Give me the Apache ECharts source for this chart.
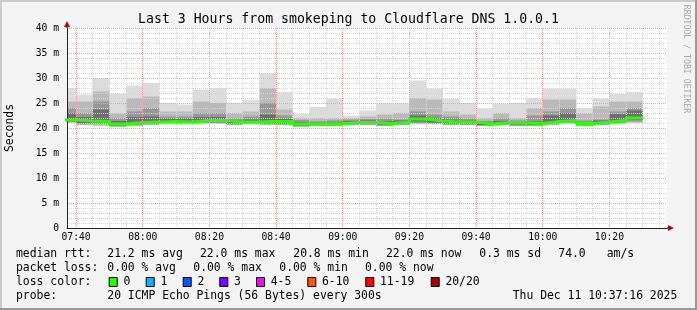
<!DOCTYPE html>
<html><head><meta charset="utf-8">
<script src="https://cdn.jsdelivr.net/npm/echarts@6/dist/echarts.min.js"></script>
<style>html,body{margin:0;padding:0;background:#f3f3f3;}#c{width:697px;height:310px;}</style>
</head><body><div id="c"></div>
<script>
// ---- data (ms) ----
const barStart = ['07:35','07:40','07:45','07:50','07:55','08:00','08:05','08:10','08:15','08:20','08:25','08:30','08:35','08:40','08:45','08:50','08:55','09:00','09:05','09:10','09:15','09:20','09:25','09:30','09:35','09:40','09:45','09:50','09:55','10:00','10:05','10:10','10:15','10:20','10:25'];
const STEP_MIN = 5;
const pingMax = [28.0,26.7,30.0,26.9,28.5,29.0,25.0,24.7,27.7,28.0,25.0,25.6,31.0,27.2,22.8,24.2,25.9,22.5,23.5,24.9,24.9,29.5,27.9,25.8,25.0,23.9,24.8,25.0,26.0,27.9,27.9,24.0,25.9,26.8,27.2];
const ping18 = [25.3,25.3,27.3,23.0,26.0,26.3,23.3,23.3,25.3,25.0,23.0,23.3,28.0,23.7,22.0,22.0,22.0,22.0,22.3,22.7,23.0,26.0,25.7,23.3,22.7,22.0,23.0,22.0,24.0,25.7,25.7,23.0,24.3,25.3,25.3];
const ping15 = [24.0,23.0,25.3,22.0,23.3,24.0,22.3,22.3,23.0,23.0,21.9,22.3,25.0,22.5,21.6,21.3,21.5,21.7,21.8,21.9,21.7,23.3,22.7,22.3,21.9,21.4,21.9,21.5,22.5,23.3,24.0,21.5,21.7,23.3,24.0];
const ping12 = [23.0,22.2,23.7,21.4,22.2,22.3,21.9,21.9,22.2,22.2,21.6,21.7,22.7,21.8,21.2,21.1,21.2,21.4,21.5,21.4,21.5,22.5,22.0,21.7,21.5,21.1,21.4,21.2,21.3,22.5,23.0,21.2,21.5,22.8,23.5];
const median = [21.6,21.4,21.3,20.8,21.1,21.2,21.3,21.2,21.5,21.5,21.2,21.2,21.3,21.3,20.8,20.8,20.9,21.1,21.1,20.9,21.2,21.8,21.4,21.2,21.2,20.8,21.1,21.0,20.9,21.3,21.5,20.9,21.2,21.5,22.0];
const ping9 = [21.3,21.0,21.0,20.5,20.8,20.9,21.1,21.0,21.2,21.2,20.9,21.0,21.0,20.9,20.5,20.6,20.7,20.9,20.9,20.7,20.9,21.3,21.1,20.9,20.9,20.6,20.9,20.7,20.6,21.0,21.2,20.6,20.9,21.2,21.6];
const ping6 = [21.2,20.8,20.8,20.4,20.6,20.8,21.0,20.9,21.0,21.0,20.7,20.9,20.8,20.7,20.4,20.5,20.5,20.7,20.7,20.5,20.7,21.0,20.9,20.7,20.7,20.5,20.7,20.5,20.5,20.8,21.0,20.5,20.7,21.0,21.3];
const ping3 = [21.1,20.6,20.5,20.2,20.4,20.6,20.9,20.8,20.9,20.9,20.6,20.8,20.6,20.6,20.2,20.4,20.4,20.6,20.6,20.4,20.6,20.8,20.8,20.6,20.6,20.4,20.6,20.4,20.4,20.6,20.9,20.4,20.6,20.8,21.1];
const pingMin = [21.0,20.5,20.3,20.1,20.3,20.5,20.8,20.7,20.8,20.8,20.5,20.7,20.5,20.5,20.1,20.3,20.3,20.5,20.5,20.3,20.5,20.7,20.7,20.5,20.5,20.3,20.5,20.3,20.3,20.5,20.8,20.3,20.5,20.7,21.0];
const xTickLabels = ['07:40','08:00','08:20','08:40','09:00','09:20','09:40','10:00','10:20'];
const viewStart = '07:37:16', viewEnd = '10:37:16';

// ---- helpers ----
const toMin = s => { const p = s.split(':').map(Number); return p[0]*60 + p[1] + (p[2]||0)/60; };
const pad = n => (n<10?'0':'') + n;
const fmt = v => pad(Math.floor(Math.round(v)/60)) + ':' + pad(Math.round(v)%60);
const starts = barStart.map(toMin);
const xMin = toMin(viewStart), xMax = toMin(viewEnd);
const majorX = xTickLabels.map(toMin);
const minorX = [];
for (let m = Math.ceil(xMin/5)*5; m <= xMax; m += 5) if (majorX.indexOf(m) < 0) minorX.push(m);

const MONO = 'DejaVu Sans Mono';
const MAJ = '#f0a0a0', MIN = '#d6d6d6';
const Y_MIN = 0, Y_MAX = 40;

function band(lo, hi, color) {
  return {
    type: 'custom', z: 1, silent: true,
    data: starts.map((t,i) => [t, t + STEP_MIN, lo[i], hi[i]]),
    encode: { x: [0,1], y: [2,3] },
    renderItem(params, api) {
      const p1 = api.coord([api.value(0), api.value(3)]);
      const p2 = api.coord([api.value(1), api.value(2)]);
      const cs = params.coordSys;
      const shape = echarts.graphic.clipRectByRect(
        { x: p1[0], y: p1[1], width: p2[0]-p1[0], height: p2[1]-p1[1] },
        { x: cs.x, y: cs.y, width: cs.width, height: cs.height });
      return shape && { type: 'rect', shape, style: { fill: color } };
    }
  };
}
function vGrid(values, color, z) {
  return {
    type: 'custom', z, silent: true,
    data: values.map(v => [v, Y_MIN]),
    encode: { x: 0, y: 1 },
    renderItem(params, api) {
      const top = api.coord([api.value(0), Y_MAX]);
      const bot = api.coord([api.value(0), Y_MIN]);
      const x = Math.round(top[0] - 0.5) + 0.5;
      return { type: 'line', shape: { x1: x, y1: top[1], x2: x, y2: bot[1] },
        style: { stroke: color, lineWidth: 1, lineDash: [1,1] } };
    }
  };
}

const medLine = [[starts[0], median[0]]].concat(starts.map((t,i) => [t + STEP_MIN, median[i]]));

const txt = (x, y, text, extra) => Object.assign({ type: 'text', x, y, z: 10,
  style: Object.assign({ text, fill: '#000', font: '11.4px "' + MONO + '"', align: 'left', verticalAlign: 'middle' }, extra || {}) });

const legendRows = [
  [254.5, [[16,'median rtt:'],[107.3,'21.2 ms avg'],[200,'22.0 ms max'],[293.3,'20.8 ms min'],[386,'22.0 ms now'],[479.3,'0.3 ms sd'],[558.3,'74.0'],[606.7,'am/s']]],
  [268.5, [[16,'packet loss:'],[107.3,'0.00 % avg'],[193.3,'0.00 % max'],[279.3,'0.00 % min'],[365,'0.00 % now']]],
  [282.3, [[16,'loss color:']]],
  [296.3, [[16,'probe:'],[107.3,'20 ICMP Echo Pings (56 Bytes) every 300s'],[512.7,'Thu Dec 11 10:37:16 2025']]]
];
const lossLabels = ['0','1','2','3','4-5','6-10','11-19','20/20'];
const lossColors = ['#26ff00','#00b8ff','#0059ff','#7e00ff','#ff00ff','#ff5500','#ff0000','#a10000'];
const lossBoxX = [108.7,145.7,182.7,219.3,256,307.3,365.3,430.7];

const graphics = [
  { type:'rect', shape:{x:0,y:0,width:697,height:2}, style:{fill:'#cbcbcb'}, z:10 },
  { type:'rect', shape:{x:0,y:0,width:2,height:310}, style:{fill:'#cbcbcb'}, z:10 },
  { type:'rect', shape:{x:0,y:308,width:697,height:2}, style:{fill:'#999999'}, z:10 },
  { type:'rect', shape:{x:695,y:0,width:2,height:310}, style:{fill:'#999999'}, z:10 },
  { type:'line', shape:{x1:67,y1:28,x2:67,y2:24}, style:{stroke:'#222',lineWidth:1}, z:10 },
  { type:'polygon', shape:{points:[[64,27],[70,27],[67,21]]}, style:{fill:'#a01010'}, z:10 },
  { type:'line', shape:{x1:667,y1:228,x2:669,y2:228}, style:{stroke:'#222',lineWidth:1}, z:10 },
  { type:'polygon', shape:{points:[[668,225],[668,231],[674,228]]}, style:{fill:'#a01010'}, z:10 },
  txt(348.5, 19.2, 'Last 3 Hours from smokeping to Cloudflare DNS 1.0.0.1', { font: '13.2px "' + MONO + '"', align: 'center' }),
  Object.assign(txt(10.5, 128, 'Seconds', { align: 'center' }), { rotation: Math.PI/2 }),
  Object.assign(txt(686.5, 59, 'RRDTOOL / TOBI OETIKER', { align: 'center', fill: '#a8a8a8', font: '8.2px "' + MONO + '"' }), { rotation: -Math.PI/2 })
];
legendRows.forEach(r => r[1].forEach(p => graphics.push(txt(p[0], r[0], p[1]))));
lossLabels.forEach((l, i) => {
  graphics.push({ type:'rect', shape:{x:lossBoxX[i]+0.5, y:277.5, width:8, height:9}, style:{fill:lossColors[i], stroke:'#000', lineWidth:1}, z:10 });
  graphics.push(txt(lossBoxX[i] + 14.7, 282.3, l));
});

const chart = echarts.init(document.getElementById('c'), null, { renderer: 'canvas' });
chart.setOption({
  animation: false,
  backgroundColor: '#f3f3f3',
  grid: { left: 67, top: 28, width: 600, height: 200, show: true, backgroundColor: '#ffffff', borderWidth: 0 },
  xAxis: { type: 'value', min: xMin, max: xMax, position: 'bottom', z: 3,
    axisLine: { show: true, onZero: false, lineStyle: { color: '#222', width: 1 } },
    axisTick: { show: false, customValues: majorX },
    axisLabel: { hideOverlap: false, customValues: majorX, formatter: v => fmt(v), fontFamily: MONO, fontSize: 9.7, color: '#000', margin: 4 },
    splitLine: { show: false } },
  yAxis: { type: 'value', min: Y_MIN, max: Y_MAX, interval: 5, z: 3,
    axisLine: { show: true, lineStyle: { color: '#222', width: 1 } },
    axisTick: { show: false },
    axisLabel: { formatter: v => v === 0 ? '0' : v + ' m', fontFamily: MONO, fontSize: 9.7, color: '#000', margin: 8 },
    splitLine: { show: true, lineStyle: { color: MAJ, type: [1,1], width: 1 } },
    minorTick: { show: false, splitNumber: 5 },
    minorSplitLine: { show: true, lineStyle: { color: MIN, type: [1,1], width: 1 } } },
  graphic: graphics,
  series: [
    band(pingMin, pingMax, '#dcdcdc'),
    band(ping3, ping18, '#bababa'),
    band(ping6, ping15, '#979797'),
    band(ping9, ping12, '#6e6e6e'),
    vGrid(minorX, MIN, 2),
    vGrid(majorX, MAJ, 3),
    { type: 'line', data: medLine, step: 'start', symbol: 'none', z: 4, silent: true,
      lineStyle: { color: '#26ff00', width: 3 }, clip: true }
  ]
});
</script>
</body></html>
